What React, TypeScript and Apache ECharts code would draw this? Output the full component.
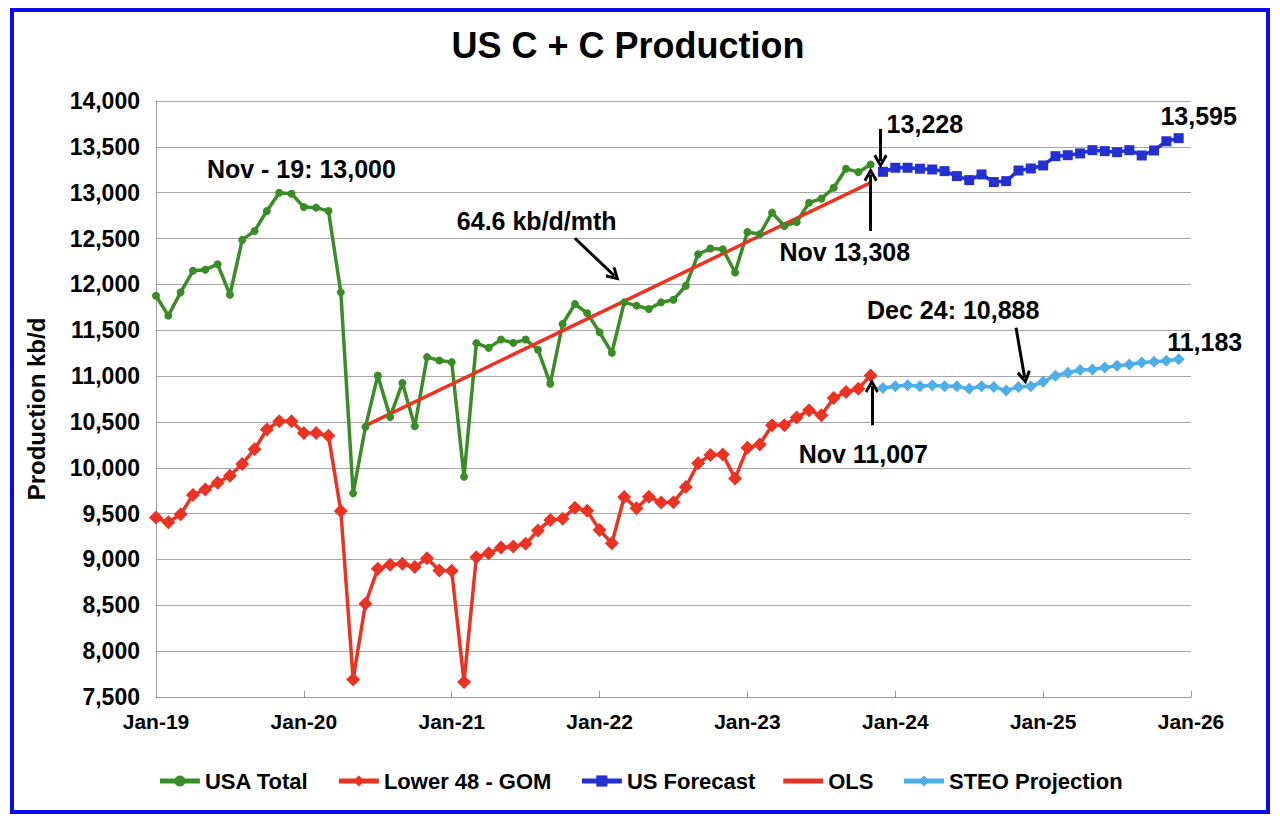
import React, { useEffect, useRef } from "react";
import * as echarts from "echarts";

const FONT = "'Liberation Sans', Arial, Helvetica, sans-serif";

// ---- axis ----
const axisStart = "2019-01";
const tickLabels = ["Jan-19", "Jan-20", "Jan-21", "Jan-22", "Jan-23", "Jan-24", "Jan-25", "Jan-26"];

// ---- series values (kb/d) ----
const usaTotalStart = "2019-01";
const usaTotal = [
  11876, 11659, 11913, 12148, 12159, 12220, 11887, 12485, 12583, 12800, 13000, 12989,
  12843, 12837, 12800, 11913, 9721, 10446, 11007, 10554, 10924, 10453, 11207, 11170,
  11152, 9902, 11359, 11308, 11398, 11362, 11398, 11288, 10916, 11568, 11786, 11685,
  11478, 11254, 11804, 11768, 11732, 11804, 11833, 11985, 12329, 12391, 12384, 12130,
  12572, 12547, 12783, 12637, 12680, 12891, 12935, 13054, 13261, 13224, 13308,
];

const lower48Start = "2019-01";
const lower48 = [
  9457, 9405, 9492, 9703, 9764, 9836, 9913, 10040, 10203, 10417, 10507, 10507,
  10380, 10380, 10348, 9529, 7692, 8518, 8898, 8942, 8953, 8917, 9014, 8880,
  8876, 7663, 9025, 9068, 9130, 9141, 9170, 9315, 9431, 9445, 9565, 9530,
  9322, 9177, 9680, 9558, 9685, 9620, 9625, 9790, 10050, 10138, 10145, 9884,
  10217, 10254, 10464, 10464, 10547, 10627, 10572, 10761, 10826, 10862, 11007,
];

const forecastStart = "2023-12";
const usForecast = [
  13228, 13272, 13272, 13261, 13253, 13235, 13181, 13137, 13199, 13116, 13126, 13242, 13264,
  13297, 13398, 13409, 13428, 13464, 13453, 13442, 13464, 13406, 13460, 13561, 13595,
];

const steoStart = "2023-12";
const steoProjection = [
  10870, 10888, 10899, 10888, 10899, 10888, 10888, 10862, 10888, 10880, 10844, 10880, 10888,
  10938, 11004, 11036, 11065, 11072, 11094, 11112, 11126, 11148, 11156, 11167, 11183,
];

const olsMonths = ["2020-06", "2023-11"];
const olsValues = [10460, 13110];

// ---- annotations (month index from Jan-19, value) ----
const noteTexts = ["Nov - 19: 13,000", "64.6 kb/d/mth", "13,228", "Nov 13,308", "Dec 24: 10,888", "Nov 11,007"];
const noteX = [11.8, 30.9, 62.4, 55.9, 64.7, 57.4];
const noteY = [13253, 12686, 13753, 12351, 11725, 10155];

const arrowFromX = [34.0, 58.8, 58.0, 69.8, 58.1];
const arrowFromY = [12503, 13696, 12583, 11526, 10464];
const arrowToX = [37.2, 58.8, 58.0, 70.5, 58.1];
const arrowToY = [12094, 13343, 13197, 10983, 10893];

function monthIndex(ym: string): number {
  const [y, m] = ym.split("-").map(Number);
  const [y0, m0] = axisStart.split("-").map(Number);
  return (y - y0) * 12 + (m - m0);
}

function toPoints(start: string, values: number[]) {
  const s = monthIndex(start);
  return values.map((v, i) => [s + i, v]);
}

const fmt = (v: number) => v.toLocaleString("en-US");

const CHEVRON = "path://M7,0 L14,12 L11.6,14 L7,5.5 L2.4,14 L0,12 Z";

export default function App() {
  const ref = useRef<HTMLDivElement>(null);

  useEffect(() => {
    if (!ref.current) return;
    const chart = echarts.init(ref.current, null, { renderer: "svg" });

    const GREEN = "#3A8C27";
    const RED = "#EA3323";
    const BLUE = "#2431D0";
    const LIGHTBLUE = "#4EAEEA";

    const labelStyle = { fontSize: 25, fontWeight: "bold" as const, color: "#000", fontFamily: FONT };

    const forecastData: any[] = toPoints(forecastStart, usForecast);
    const fLast = forecastData[forecastData.length - 1];
    forecastData[forecastData.length - 1] = {
      value: fLast,
      label: { show: true, position: "top", offset: [20, 0], formatter: (p: any) => fmt(p.value[1]), ...labelStyle },
    };

    const steoData: any[] = toPoints(steoStart, steoProjection);
    const sLast = steoData[steoData.length - 1];
    steoData[steoData.length - 1] = {
      value: sLast,
      label: { show: true, position: "top", offset: [26, 6], formatter: (p: any) => fmt(p.value[1]), ...labelStyle },
    };

    const option: any = {
      animation: false,
      textStyle: { fontFamily: FONT },
      title: {
        text: "US C + C Production",
        left: 623,
        top: 22,
        textAlign: "center",
        textStyle: { fontSize: 36, fontWeight: "bold", color: "#000", fontFamily: FONT },
      },
      grid: { left: 156, right: 89, top: 101, bottom: 127 },
      legend: {
        top: 765,
        left: "center",
        itemWidth: 40,
        itemHeight: 14,
        itemGap: 28,
        lineStyle: { width: 5 },
        textStyle: { fontSize: 22, fontWeight: "bold", color: "#000", fontFamily: FONT },
        data: [
          { name: "USA Total" },
          { name: "Lower 48 - GOM" },
          { name: "US Forecast" },
          { name: "OLS", icon: "path://M0,0 L40,0 L40,5 L0,5 Z" },
          { name: "STEO Projection" },
        ],
      },
      xAxis: {
        type: "value",
        min: 0,
        max: 84,
        interval: 12,
        axisLine: { show: true, lineStyle: { color: "#9A9A9A", width: 1 } },
        axisTick: { show: true, inside: true, length: 6, lineStyle: { color: "#9A9A9A" } },
        splitLine: { show: false },
        axisLabel: {
          margin: 14,
          formatter: (v: number) => tickLabels[Math.round(v / 12)] ?? "",
          fontSize: 21,
          fontWeight: "bold",
          color: "#000",
          fontFamily: FONT,
        },
      },
      yAxis: {
        type: "value",
        min: 7500,
        max: 14000,
        interval: 500,
        name: "Production kb/d",
        nameLocation: "middle",
        nameGap: 108,
        nameTextStyle: { fontSize: 24, fontWeight: "bold", color: "#000", fontFamily: FONT, padding: [0, 20, 0, 0] },
        axisLine: { show: true, lineStyle: { color: "#9A9A9A", width: 1 } },
        axisTick: { show: false },
        splitLine: { show: true, lineStyle: { color: "#A6A6A6", width: 1 } },
        axisLabel: {
          margin: 16,
          formatter: (v: number) => fmt(v),
          fontSize: 23,
          fontWeight: "bold",
          color: "#000",
          fontFamily: FONT,
        },
      },
      series: [
        {
          name: "USA Total",
          type: "line",
          data: toPoints(usaTotalStart, usaTotal),
          symbol: "circle",
          symbolSize: 8,
          lineStyle: { color: GREEN, width: 3.5 },
          itemStyle: { color: GREEN },
          emphasis: { disabled: true },
        },
        {
          name: "Lower 48 - GOM",
          type: "line",
          data: toPoints(lower48Start, lower48),
          symbol: "diamond",
          symbolSize: 14,
          lineStyle: { color: RED, width: 3.5 },
          itemStyle: { color: RED },
          emphasis: { disabled: true },
        },
        {
          name: "US Forecast",
          type: "line",
          data: forecastData,
          symbol: "rect",
          symbolSize: 10,
          lineStyle: { color: BLUE, width: 3.5 },
          itemStyle: { color: BLUE },
          emphasis: { disabled: true },
        },
        {
          name: "OLS",
          type: "line",
          data: olsMonths.map((m, i) => [monthIndex(m), olsValues[i]]),
          symbol: "none",
          lineStyle: { color: RED, width: 3.5 },
          itemStyle: { color: RED },
          emphasis: { disabled: true },
          markPoint: {
            silent: true,
            symbol: "circle",
            symbolSize: 1,
            itemStyle: { color: "rgba(0,0,0,0)" },
            label: { show: true, position: "inside", ...labelStyle },
            data: noteTexts.map((t, i) => ({
              coord: [noteX[i], noteY[i]],
              label: { formatter: t },
            })),
          },
          markLine: {
            silent: true,
            symbol: ["none", CHEVRON],
            symbolSize: 14,
            lineStyle: { color: "#000", width: 3, type: "solid" },
            itemStyle: { color: "#000" },
            label: { show: false },
            emphasis: { disabled: true },
            data: arrowFromX.map((x, i) => [
              { coord: [x, arrowFromY[i]] },
              { coord: [arrowToX[i], arrowToY[i]] },
            ]),
          },
        },
        {
          name: "STEO Projection",
          type: "line",
          data: steoData,
          symbol: "diamond",
          symbolSize: 12,
          lineStyle: { color: LIGHTBLUE, width: 3.5 },
          itemStyle: { color: LIGHTBLUE },
          emphasis: { disabled: true },
        },
      ],
      graphic: [
        {
          type: "rect",
          silent: true,
          shape: { x: 12, y: 10, width: 1256, height: 802 },
          style: { fill: "none", stroke: "#0A0AF0", lineWidth: 4 },
          z: 100,
        },
      ],
    };

    chart.setOption(option);
    return () => chart.dispose();
  }, []);

  return (
    <div
      ref={ref}
      style={{ position: "absolute", left: 0, top: 0, width: 1280, height: 824, background: "#fff" }}
    />
  );
}
